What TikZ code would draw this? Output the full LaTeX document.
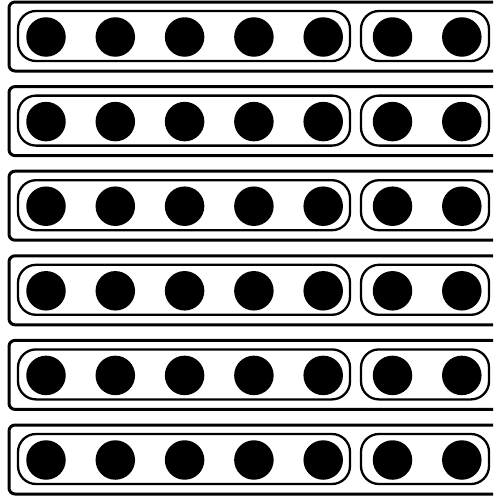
\documentclass[tikz,border=0pt]{standalone}
\usetikzlibrary{positioning}
\begin{document}
\begin{tikzpicture}[x=1pt, y=-1pt,
  tray/.style={draw, line width=3pt, rounded corners=6pt, minimum width=520pt, minimum height=69pt, inner sep=0pt},
  group/.style={draw, line width=2.3pt, rounded corners=18pt, minimum height=50pt, inner sep=0pt},
  bead/.style={circle, fill=black, minimum size=39.5pt, inner sep=0pt}]
\useasboundingbox (0,0) rectangle (493,498);
\clip (0,0) rectangle (493,498);
% six trays, each with a group of five beads and a group of two
\foreach \r in {1,...,6} {
  \pgfmathsetmacro{\y}{36.5+84.6*(\r-1)}
  \node[tray] (tray\r) at (269,\y) {};
  \node[group, minimum width=332pt] (five\r) at (184,\y-0.5) {};
  \node[group, minimum width=128pt] (two\r) at (425,\y-0.5) {};
  \foreach \i in {1,...,7}
    \node[bead] (bead\r-\i) at ({46+69.3*(\i-1)},\y+0.5) {};
}
\end{tikzpicture}
\end{document}
